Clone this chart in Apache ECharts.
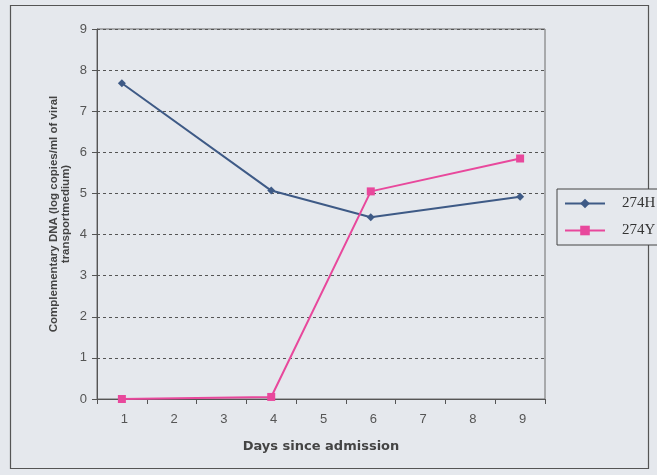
<!DOCTYPE html>
<html>
<head>
<meta charset="utf-8">
<script src="https://cdn.jsdelivr.net/npm/echarts@6/dist/echarts.min.js"></script>
<style>
  html, body { margin: 0; padding: 0; background: #e5e8ed; }
  #chart { width: 657px; height: 475px; }
</style>
</head>
<body>
<div id="chart"></div>
<script>
// Days since admission (category axis)
const days = ['1', '2', '3', '4', '5', '6', '7', '8', '9'];
// cDNA load, log copies/ml of viral transport medium (null = not sampled)
const series274H = [7.68, null, null, 5.07, null, 4.42, null, null, 4.92];
const series274Y = [0.0, null, null, 0.05, null, 5.05, null, null, 5.85];
const yTicks = [0, 1, 2, 3, 4, 5, 6, 7, 8, 9];

const chart = echarts.init(document.getElementById('chart'), null, { renderer: 'canvas' });

chart.setOption({
  backgroundColor: '#e5e8ed',
  animation: false,
  grid: {
    left: 97, right: 112, top: 29, bottom: 76,
    show: true, borderColor: '#6a6a6a', borderWidth: 1, backgroundColor: 'transparent'
  },
  graphic: [{
    type: 'rect',
    shape: { x: 10.5, y: 5.5, width: 638, height: 463 },
    style: { fill: 'none', stroke: '#555', lineWidth: 1.2 },
    silent: true, z: -1
  }],
  legend: {
    orient: 'vertical',
    left: 557, top: 189,
    itemWidth: 40, itemHeight: 12, itemGap: 12,
    padding: [7, 8, 7, 7],
    borderColor: '#444', borderWidth: 1,
    backgroundColor: '#e5e8ed',
    textStyle: { fontFamily: 'Liberation Serif', fontSize: 15, color: '#333', padding: [0, 0, 0, 12] },
    data: ['274H', '274Y']
  },
  xAxis: {
    type: 'category',
    data: days,
    boundaryGap: true,
    name: 'Days since admission',
    nameLocation: 'middle',
    nameGap: 41,
    nameTextStyle: { fontFamily: 'DejaVu Sans', fontWeight: 'bold', fontSize: 13, color: '#444' },
    axisLine: { lineStyle: { color: '#555', width: 1 } },
    axisTick: { show: true, length: 5, alignWithLabel: false, lineStyle: { color: '#555' } },
    axisLabel: { fontFamily: 'Liberation Sans', fontSize: 13, color: '#555', margin: 14, padding: [0, 0, 0, 5] },
    splitLine: { show: false }
  },
  yAxis: {
    type: 'value',
    min: yTicks[0], max: yTicks[yTicks.length - 1], interval: 1,
    name: 'Complementary DNA (log copies/ml of viral\ntransportmedium)',
    nameLocation: 'middle',
    nameGap: 25,
    nameMoveOverlap: false,
    nameRotate: 90,
    nameTextStyle: { fontFamily: 'Liberation Sans', fontWeight: 'bold', fontSize: 11.5, color: '#444', lineHeight: 12 },
    axisLine: { show: true, lineStyle: { color: '#555', width: 1 } },
    axisTick: { show: true, length: 5, inside: false, lineStyle: { color: '#555' } },
    axisLabel: { fontFamily: 'Liberation Sans', fontSize: 13, color: '#555', margin: 10 },
    splitLine: { show: true, lineStyle: { color: '#555', type: [3, 3], width: 1 } }
  },
  series: [
    {
      name: '274H',
      type: 'line',
      data: series274H,
      connectNulls: true,
      symbol: 'diamond',
      symbolSize: 8,
      color: '#3e5a86',
      lineStyle: { color: '#3e5a86', width: 2 },
      itemStyle: { color: '#3e5a86' }
    },
    {
      name: '274Y',
      type: 'line',
      data: series274Y,
      connectNulls: true,
      symbol: 'rect',
      symbolSize: 8,
      color: '#e8489c',
      lineStyle: { color: '#e8489c', width: 2 },
      itemStyle: { color: '#e8489c' }
    }
  ]
});
</script>
</body>
</html>
